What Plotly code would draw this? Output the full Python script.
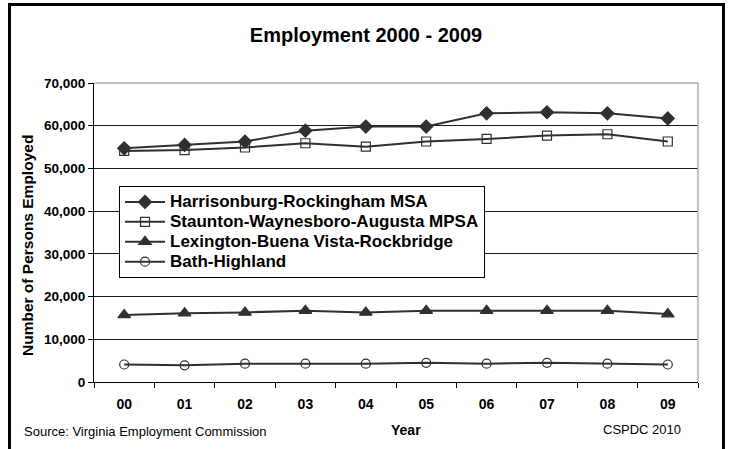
import plotly.graph_objects as go

years = ["00", "01", "02", "03", "04", "05", "06", "07", "08", "09"]
harrisonburg = [54700, 55500, 56300, 58850, 59800, 59800, 62900, 63150, 62900, 61700]
staunton = [54100, 54300, 54900, 55900, 55100, 56300, 56900, 57700, 58000, 56300]
lexington = [15700, 16100, 16300, 16700, 16300, 16700, 16700, 16700, 16700, 15900]
bath = [4100, 3900, 4300, 4300, 4300, 4500, 4300, 4500, 4300, 4100]

series_names = ["Harrisonburg-Rockingham MSA", "Staunton-Waynesboro-Augusta MPSA",
                "Lexington-Buena Vista-Rockbridge", "Bath-Highland"]
series_values = [harrisonburg, staunton, lexington, bath]
symbols = ["diamond", "square-open", "triangle-up", "circle-open"]
sizes = [10, 9, 11, 9]

y_ticks = [0, 10000, 20000, 30000, 40000, 50000, 60000, 70000]

FONT = "Liberation Sans, Arial, sans-serif"
LINE = "#303030"

W, H = 729, 449
L, R, T, B = 94, 31, 83, 67
pw, ph = W - L - R, H - T - B

def px(x):
    return (x - L) / pw

def py(y):
    return (H - B - y) / ph

fig = go.Figure()
for name, vals, sym, sz in zip(series_names, series_values, symbols, sizes):
    fig.add_trace(go.Scatter(
        x=years, y=vals, mode="lines+markers",
        name="<span style='font-size:17px'>" + name + "</span>",
        line=dict(color=LINE, width=2),
        marker=dict(symbol=sym, size=sz, color=LINE, line=dict(color=LINE, width=1.2)),
    ))

fig.update_layout(
    width=W, height=H,
    margin=dict(l=L, r=R, t=T, b=B),
    paper_bgcolor="white", plot_bgcolor="white",
    font=dict(family=FONT, color="black"),
    showlegend=True,
    legend=dict(
        x=px(119), y=py(186), xanchor="left", yanchor="top",
        bgcolor="white", bordercolor="black", borderwidth=1,
        font=dict(family=FONT, size=13, color="black", weight="bold"),
        tracegroupgap=0, itemwidth=40,
    ),
    title=dict(text="Employment 2000 - 2009", x=366 / W, y=1 - 35 / H,
               xanchor="center", yanchor="middle", xref="container", yref="container",
               font=dict(family=FONT, size=20, color="black", weight="bold")),
)

fig.update_xaxes(
    type="category", range=[-0.5, 9.5],
    showgrid=False, showline=True, linecolor="black", linewidth=1,
    ticks="outside", tickson="boundaries", ticklen=5, tickcolor="black",
    tickfont=dict(family=FONT, size=14, color="black", weight="bold"),
    ticklabelstandoff=9,
)
fig.update_yaxes(
    range=[0, 70000], tickvals=y_ticks, tickformat=",",
    showgrid=True, gridcolor="#1a1a1a", gridwidth=1,
    showline=True, linecolor="black", linewidth=1,
    ticks="outside", ticklen=5, tickcolor="black",
    tickfont=dict(family=FONT, size=13.5, color="black", weight="bold"),
    zeroline=False,
)

# plot-area border (top and right, grey)
fig.add_shape(type="line", xref="paper", yref="paper", x0=1, x1=1, y0=0, y1=1,
              line=dict(color="#b0b0b0", width=1.5), layer="above")
fig.add_shape(type="line", xref="paper", yref="paper", x0=0, x1=1, y0=1, y1=1,
              line=dict(color="#808080", width=1), layer="above")
# outer chart frame
fig.add_shape(type="rect", xref="paper", yref="paper",
              x0=px(9.5), x1=px(723.5), y0=py(470), y1=py(4.5),
              line=dict(color="black", width=3), fillcolor="rgba(0,0,0,0)", layer="above")

fig.add_annotation(text="<b>Number of Persons Employed</b>", textangle=-90,
                   x=px(27), y=py(246), xref="paper", yref="paper", showarrow=False,
                   xanchor="center", yanchor="middle",
                   font=dict(family=FONT, size=15.5, color="black"))
fig.add_annotation(text="<b>Year</b>", x=px(406), y=py(430), xref="paper", yref="paper",
                   xanchor="center", yanchor="middle",
                   showarrow=False, font=dict(family=FONT, size=14, color="black"))
fig.add_annotation(text="Source: Virginia Employment Commission", x=px(22), y=py(432),
                   xref="paper", yref="paper", xanchor="left", yanchor="middle",
                   showarrow=False, font=dict(family=FONT, size=13, color="black"))
fig.add_annotation(text="CSPDC 2010", x=px(683), y=py(430), xref="paper", yref="paper",
                   xanchor="right", yanchor="middle", showarrow=False,
                   font=dict(family=FONT, size=13, color="black"))

fig.write_html("out.html", config={"displayModeBar": False},
               post_script="document.body.style.margin='0px';")
